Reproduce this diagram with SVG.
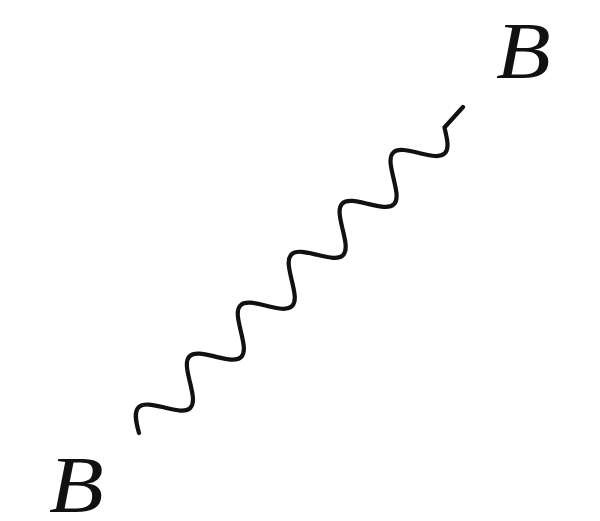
<svg xmlns="http://www.w3.org/2000/svg" width="600" height="521" viewBox="0 0 600 521">
<style>
.lbl{font-family:"Liberation Serif","DejaVu Serif",serif;font-style:italic;font-size:80px;fill:#111}
.wave{fill:none;stroke:#111;stroke-width:4.2;stroke-linecap:round;stroke-linejoin:round}
</style>
<rect width="600" height="521" fill="#fff"/>
<g id="connectors">
<path class="wave" transform="translate(139,433) rotate(-45)" d="M0,0 c5.6,-10 11,-18.5 18,-18.5 s12.4,9.5 18,18.5 s11,18.5 18,18.5 s12.4,-9.5 18,-18.5 s11,-18.5 18,-18.5 s12.4,9.5 18,18.5 s11,18.5 18,18.5 s12.4,-9.5 18,-18.5 s11,-18.5 18,-18.5 s12.4,9.5 18,18.5 s11,18.5 18,18.5 s12.4,-9.5 18,-18.5 s11,-18.5 18,-18.5 s12.4,9.5 18,18.5 s11,18.5 18,18.5 s12.4,-9.5 18,-18.5 s11,-18.5 18,-18.5 s12.4,9.5 18,18.5 s11,18.5 18,18.5 s12.4,-9.5 18,-18.5 s11,-18.5 18,-18.5 s12.4,9.5 18,18.5 s11,18.5 18,18.5 s12.4,-9.5 18,-18.5 l27.6,-1.4"/>
</g>
<g id="node-top"><text class="lbl" transform="translate(496,78) scale(1.12,1)">B</text></g>
<g id="node-bottom"><text class="lbl" transform="translate(49,512) scale(1.12,1)">B</text></g>
</svg>
